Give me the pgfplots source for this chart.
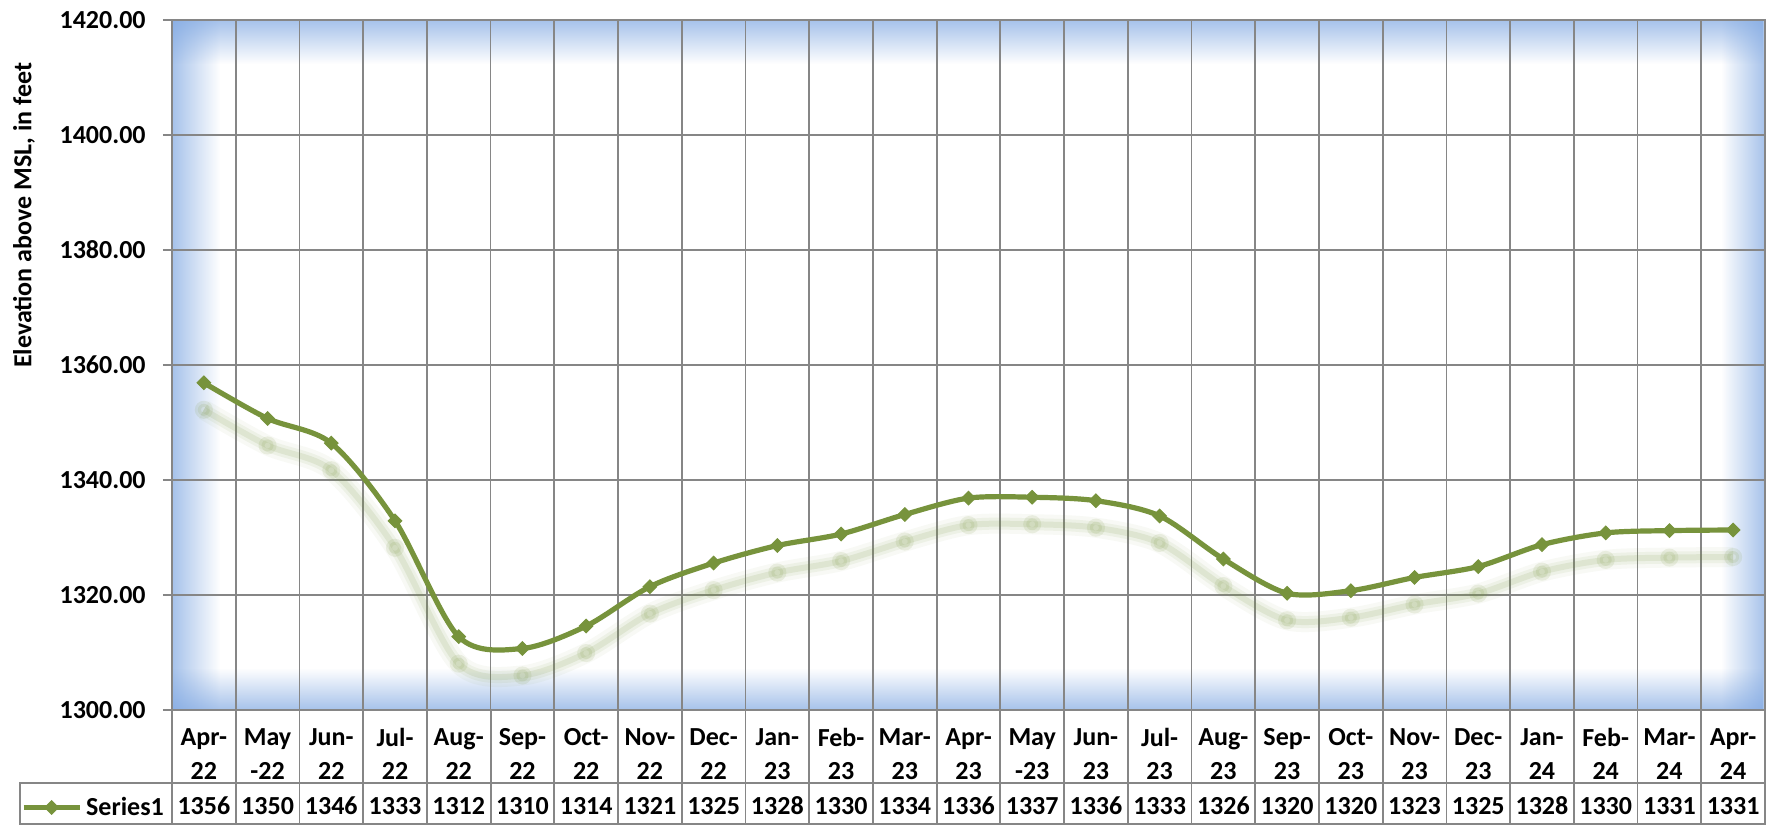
\documentclass[border=0pt]{standalone}
\usepackage{fontspec}
\setmainfont{Carlito}
\usepackage{pgfplots}
\usepackage{pgfplotstable}
\pgfplotsset{compat=1.18}
\usetikzlibrary{fadings}
\definecolor{lgreen}{RGB}{119,147,60}
\definecolor{gridgray}{RGB}{134,134,134}
\definecolor{glowblue}{RGB}{128,168,226}
\tikzfading[name=fadeL, left color=transparent!30, middle color=transparent!88, right color=transparent!100]
\tikzfading[name=fadeR, left color=transparent!100, middle color=transparent!88, right color=transparent!30]
\tikzfading[name=fadeT, top color=transparent!30, middle color=transparent!88, bottom color=transparent!100]
\tikzfading[name=fadeB, top color=transparent!100, middle color=transparent!88, bottom color=transparent!30]
\newcommand\lblfont{\fontsize{13}{16.8}\selectfont\bfseries}

\pgfplotstableread{
x y
0 1356.9
1 1350.7
2 1346.4
3 1332.9
4 1312.75
5 1310.7
6 1314.6
7 1321.45
8 1325.55
9 1328.6
10 1330.6
11 1334.0
12 1336.85
13 1337.0
14 1336.4
15 1333.75
16 1326.25
17 1320.3
18 1320.75
19 1323.05
20 1324.95
21 1328.75
22 1330.8
23 1331.2
24 1331.3
}\datatable

\begin{document}
\begin{tikzpicture}
\useasboundingbox (-86pt,-57.5pt) rectangle (798.5pt,355pt);
% plot area background glow
\fill[white] (0,0) rectangle (796.5pt,345pt);
\fill[glowblue, path fading=fadeL] (0,0) rectangle (24pt,345pt);
\fill[glowblue, path fading=fadeR] (774.5pt,0) rectangle (796.5pt,345pt);
\fill[glowblue, path fading=fadeT] (0,323pt) rectangle (796.5pt,345pt);
\fill[glowblue, path fading=fadeB] (0,0) rectangle (796.5pt,21pt);
\begin{axis}[
  at={(0,0)}, anchor=south west,
  scale only axis, width=796.5pt, height=345pt,
  xmin=-0.5, xmax=24.5, ymin=1300, ymax=1420,
  ytick={1300,1320,...,1420},
  xtick={0,...,24},
  xticklabels={{Apr-\\22},{May\\-22},{Jun-\\22},{Jul-\\22},{Aug-\\22},{Sep-\\22},{Oct-\\22},{Nov-\\22},{Dec-\\22},{Jan-\\23},{Feb-\\23},{Mar-\\23},{Apr-\\23},{May\\-23},{Jun-\\23},{Jul-\\23},{Aug-\\23},{Sep-\\23},{Oct-\\23},{Nov-\\23},{Dec-\\23},{Jan-\\24},{Feb-\\24},{Mar-\\24},{Apr-\\24}},
  minor xtick={0.5,1.5,...,23.5},
  xminorgrids, ymajorgrids,
  grid style={gridgray, line width=0.9pt},
  minor grid style={gridgray, line width=0.9pt},
  axis line style={gridgray, line width=0.9pt},
  tick align=outside,
  ytick pos=left, xtick pos=bottom,
  major tick length=4.5pt, minor tick length=0pt,
  xtick style={draw=none},
  ytick style={gridgray, line width=0.9pt},
  scaled y ticks=false,
  /pgf/number format/assume math mode=true,
  y tick label style={/pgf/number format/fixed, /pgf/number format/fixed zerofill, /pgf/number format/precision=2, /pgf/number format/1000 sep={}},
  y tick label style={font=\lblfont, anchor=east, inner sep=0pt, xshift=-8.5pt},
  x tick label style={font=\lblfont, align=center, anchor=center, inner sep=0pt, yshift=-17.5pt},
  extra x ticks={0,...,24},
  extra x tick labels={1356,1350,1346,1333,1312,1310,1314,1321,1325,1328,1330,1334,1336,1337,1336,1333,1326,1320,1320,1323,1325,1328,1330,1331,1331},
  extra x tick style={grid=none, xtick style={draw=none},
     x tick label style={yshift=-25.8pt}},
  ylabel={Elevation above MSL, in feet},
  ylabel style={at={(axis description cs:-0.0929,0.717)}, anchor=center, font=\lblfont},
  legend style={at={(axis description cs:-0.0487,-0.1413)}, anchor=center, draw=none, fill=none, font=\lblfont, inner sep=0pt},
  legend image code/.code={\draw[#1, mark repeat=2, mark phase=2] plot coordinates {(0pt,0pt) (14pt,0pt) (28pt,0pt)};},
  clip=false,
]
% shadow (blurred look)
\addplot[lgreen, opacity=0.05, line width=10pt, smooth, no marks, yshift=-13.5pt, forget plot] table {\datatable};
\addplot[lgreen, opacity=0.08, line width=6pt, smooth, no marks, yshift=-13.5pt, forget plot] table {\datatable};
\addplot[lgreen, opacity=0.12, line width=3pt, smooth, mark=*, mark size=3pt, mark options={draw=none, fill=lgreen}, yshift=-13.5pt, forget plot] table {\datatable};
% main line
\addplot[lgreen, line width=2.6pt, smooth, mark=square*, mark size=2.4pt, mark options={rotate=45, solid, fill=lgreen, line width=0.5pt}]
  table {\datatable};
\addlegendentry{Series1}
\end{axis}
% data table grid
\foreach \k in {0,...,25} \draw[gridgray, line width=0.9pt] (\k*31.86pt,0) -- (\k*31.86pt,-57pt);
\draw[gridgray, line width=0.9pt] (0,-36.5pt) -- (796.5pt,-36.5pt);
\draw[gridgray, line width=0.9pt] (-76pt,-36.5pt) rectangle (796.5pt,-57pt);
\end{tikzpicture}
\end{document}
